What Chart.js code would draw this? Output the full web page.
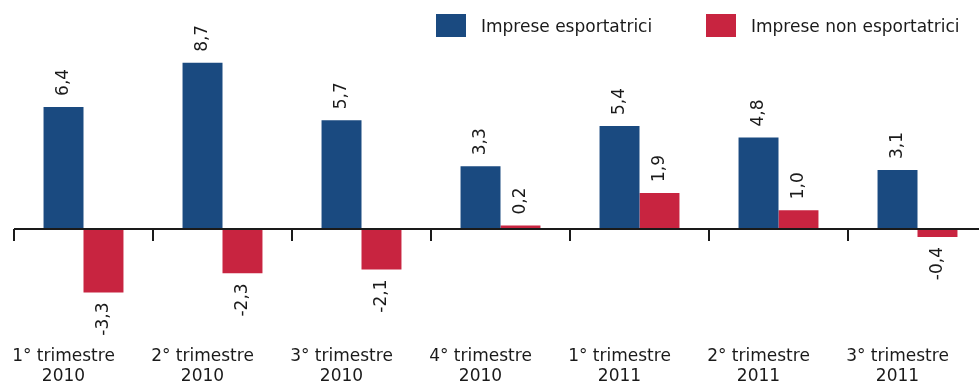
<!DOCTYPE html>
<html>
<head>
<meta charset="utf-8">
<script src="https://cdn.jsdelivr.net/npm/chart.js@4"></script>
<style>
  html, body { margin: 0; padding: 0; background: #fff; overflow: hidden; }
  #wrap { position: relative; width: 988px; height: 385px; }
  .leg { position: absolute; top: 14px; height: 23px; display: flex; align-items: center;
         font: 17px 'DejaVu Sans', sans-serif; color: #1a1a1a; white-space: nowrap; }
  .leg .sw { width: 30px; height: 23px; margin-right: 15px; }
</style>
</head>
<body>
<div id="wrap">
  <canvas id="c" width="988" height="385"></canvas>
  <div id="legend"></div>
</div>
<script>
const CATEGORIES = [
  ["1° trimestre", "2010"], ["2° trimestre", "2010"], ["3° trimestre", "2010"], ["4° trimestre", "2010"],
  ["1° trimestre", "2011"], ["2° trimestre", "2011"], ["3° trimestre", "2011"]
];
const EXPORTERS = [6.4, 8.7, 5.7, 3.3, 5.4, 4.8, 3.1];
const NON_EXPORTERS = [-3.3, -2.3, -2.1, 0.2, 1.9, 1.0, -0.4];
const SERIES_NAMES = ["Imprese esportatrici", "Imprese non esportatrici"];

const BLUE = "#1a4a80";
const RED = "#c82440";
const FONT = "'DejaVu Sans', sans-serif";

// legend, top right
const legendLeft = [436, 706];
document.getElementById("legend").innerHTML = SERIES_NAMES.map((name, i) =>
  `<div class="leg" style="left:${legendLeft[i]}px"><div class="sw" style="background:${i ? RED : BLUE}"></div>${name}</div>`
).join("");

// zero line + tick marks between the categories
const axisPlugin = {
  id: "zeroAxis",
  afterDatasetsDraw(chart) {
    const { ctx, chartArea, scales } = chart;
    const y0 = Math.round(scales.y.getPixelForValue(0));
    const step = scales.x.getPixelForValue(1) - scales.x.getPixelForValue(0);
    ctx.save();
    ctx.strokeStyle = "#1a1a1a";
    ctx.lineWidth = 2;
    ctx.beginPath();
    ctx.moveTo(chartArea.left, y0);
    ctx.lineTo(chartArea.right, y0);
    for (let i = 0; i < CATEGORIES.length; i++) {
      const x = Math.round(scales.x.getPixelForValue(i) - step / 2);
      ctx.moveTo(x, y0);
      ctx.lineTo(x, y0 + 12);
    }
    ctx.stroke();
    ctx.restore();
  }
};

// rotated value labels
const valuePlugin = {
  id: "values",
  afterDatasetsDraw(chart) {
    const { ctx } = chart;
    ctx.save();
    ctx.font = "17px " + FONT;
    ctx.fillStyle = "#1a1a1a";
    ctx.textBaseline = "middle";
    chart.data.datasets.forEach((ds, di) => {
      chart.getDatasetMeta(di).data.forEach((bar, i) => {
        const v = ds.data[i];
        const txt = v.toFixed(1).replace(".", ",");
        ctx.save();
        ctx.translate(bar.x, bar.y);
        ctx.rotate(-Math.PI / 2);
        if (v >= 0) {
          ctx.textAlign = "left";
          ctx.fillText(txt, 11, 0);
        } else {
          ctx.textAlign = "right";
          ctx.fillText(txt, -10, 0);
        }
        ctx.restore();
      });
    });
    ctx.restore();
  }
};

new Chart(document.getElementById("c"), {
  type: "bar",
  data: {
    labels: CATEGORIES,
    datasets: [
      { label: SERIES_NAMES[0], data: EXPORTERS, backgroundColor: BLUE },
      { label: SERIES_NAMES[1], data: NON_EXPORTERS, backgroundColor: RED }
    ]
  },
  options: {
    responsive: false,
    animation: false,
    layout: { padding: { left: 14, right: 1, top: 38, bottom: 0 } },
    datasets: { bar: { categoryPercentage: 0.575, barPercentage: 1.0 } },
    scales: {
      x: {
        grid: { display: false },
        border: { display: false },
        afterFit(scale) { scale.height = 60; },
        ticks: {
          color: "#1a1a1a",
          font: { family: FONT, size: 17, lineHeight: "20px" },
          padding: 14,
          labelOffset: -20,
          maxRotation: 0,
          autoSkip: false
        }
      },
      y: {
        display: false,
        min: -5,
        max: 10
      }
    },
    plugins: {
      legend: { display: false },
      tooltip: { enabled: false }
    }
  },
  plugins: [axisPlugin, valuePlugin]
});
</script>
</body>
</html>
